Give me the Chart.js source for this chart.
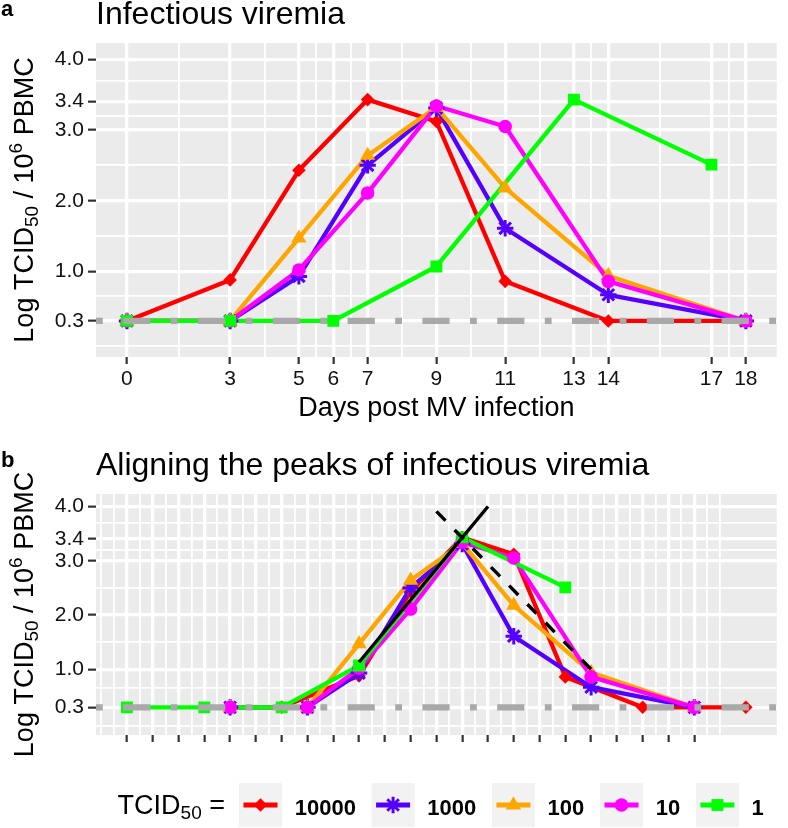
<!DOCTYPE html>
<html>
<head>
<meta charset="utf-8">
<script src="https://cdn.jsdelivr.net/npm/chart.js@4.4.1/dist/chart.umd.min.js"></script>
<style>
html,body{margin:0;padding:0;background:#ffffff;}
#wrap{position:relative;width:788px;height:828px;overflow:hidden;background:#fff;}
canvas{position:absolute;left:0;display:block;}
#ca{top:0;}
#cb{top:451px;}
</style>
</head>
<body>
<div id="wrap">
<canvas id="ca" width="788" height="451"></canvas>
<canvas id="cb" width="788" height="377"></canvas>
</div>
<script>
// ---------------- DATA ----------------
const seriesLabels = ['10000', '1000', '100', '10', '1'];
const seriesColors = ['#FF0000', '#5500FF', '#FFA500', '#FF00FF', '#00FF00'];
const seriesMarkers = ['rectRot', 'star', 'triangle', 'circle', 'rect'];

const daysMain = [0, 3, 5, 7, 9, 11, 14, 18];
const daysDose1 = [0, 3, 6, 9, 13, 17];

const log10000 = [0.3, 0.88, 2.43, 3.43, 3.12, 0.86, 0.3, 0.3];
const log1000  = [0.3, 0.3, 0.93, 2.50, 3.31, 1.61, 0.67, 0.3];
const log100   = [0.3, 0.3, 1.47, 2.64, 3.32, 2.18, 0.94, 0.3];
const log10    = [0.3, 0.3, 1.02, 2.11, 3.34, 3.05, 0.86, 0.3];
const log1     = [0.3, 0.3, 0.3, 1.07, 3.43, 2.51];

// days each curve is shifted in panel b so that the peaks line up
const peakAlignShift = [6, 4, 4, 4, 0];

const detectionLimit = 0.3;

// fitted slopes in panel b
const riseFitX = [9, 14];
const riseFitY = [1.13, 4.0];
const fallFitX = [12, 18];
const fallFitY = [3.91, 1.0];

// ticks
const xTicksA = [0, 3, 5, 6, 7, 9, 11, 13, 14, 17, 18];
const xMinorA = [1.5, 4, 5.5, 6.5, 8, 10, 12, 13.5, 15.5, 17.5];
const xTicksB = [0, 1, 2, 3, 4, 5, 6, 7, 8, 9, 10, 11, 12, 13, 14, 15, 16, 17, 18, 19, 20, 21, 22];
const xMinorB = [-1, -0.5, 0.5, 1.5, 2.5, 3.5, 4.5, 5.5, 6.5, 7.5, 8.5, 9.5, 10.5, 11.5, 12.5,
                 13.5, 14.5, 15.5, 16.5, 17.5, 18.5, 19.5, 20.5, 21.5, 22.5, 23];
const yTicks = [0.3, 1, 2, 3, 3.4, 4];
const yMinor = [-0.05, 0.65, 1.5, 2.5, 3.2, 3.7];

// ---------------- CHART ----------------
const FAMILY = '"Liberation Sans", Arial, Helvetica, sans-serif';
Chart.defaults.font.family = FAMILY;

const seriesX = [daysMain, daysMain, daysMain, daysMain, daysDose1];
const seriesY = [log10000, log1000, log100, log10, log1];
const markerRadius = {rectRot: 6.8, star: 8.2, triangle: 8.8, circle: 6.8, rect: 8.4};
const LINE_W = 4.3;
const Y_MIN = -0.21, Y_MAX = 4.23;

function pointsOf(i, shift) {
  return seriesX[i].map((d, j) => ({x: d + shift, y: seriesY[i][j]}));
}

function buildDatasets(panel, xMin, xMax) {
  const ds = [];
  seriesY.forEach((_, i) => {
    const shift = panel === 'b' ? peakAlignShift[i] : 0;
    const pts = pointsOf(i, shift);
    const col = seriesColors[i], m = seriesMarkers[i];
    ds.push({data: pts, borderColor: col, backgroundColor: col, borderWidth: LINE_W,
             borderJoinStyle: 'round', pointRadius: 0, fill: false, order: 20 - i});
    ds.push({data: pts, showLine: false, pointStyle: m, pointRadius: markerRadius[m],
             pointBackgroundColor: col, pointBorderColor: col,
             pointBorderWidth: m === 'star' ? 3 : 0, order: 10 - i});
  });
  if (panel === 'b') {
    ds.push({data: riseFitX.map((x, j) => ({x: x, y: riseFitY[j]})), borderColor: '#000',
             borderWidth: 3.4, pointRadius: 0, order: 2});
    ds.push({data: fallFitX.map((x, j) => ({x: x, y: fallFitY[j]})), borderColor: '#000',
             borderWidth: 3.4, borderDash: [13, 13], pointRadius: 0, order: 1});
  }
  ds.push({data: [{x: xMin, y: detectionLimit}, {x: xMax, y: detectionLimit}],
           borderColor: '#A9A9A9', borderWidth: 6.2, borderDash: [6.8, 20.4, 27.2, 20.4],
           pointRadius: 0, order: 0});
  return ds;
}

function axisCfg(axis, min, max, major, minor, showLabels, size) {
  const all = major.concat(minor).sort((a, b) => a - b);
  const isMajor = v => major.includes(v);
  return {
    type: 'linear', min: min, max: max, position: axis === 'x' ? 'bottom' : 'left',
    afterBuildTicks: s => { s.ticks = all.map(v => ({value: v})); },
    afterFit: s => { if (axis === 'x') s.height = size; else s.width = size; },
    border: {display: false},
    grid: {
      color: '#FFFFFF',
      lineWidth: c => (c.tick && isMajor(c.tick.value)) ? 3.3 : 1.8,
      drawTicks: true,
      tickLength: axis === 'x' ? 7 : 8,
      tickWidth: 2.2,
      tickColor: c => (c.tick && isMajor(c.tick.value)) ? '#333333' : 'rgba(0,0,0,0)'
    },
    ticks: {
      autoSkip: false, maxRotation: 0, minRotation: 0,
      padding: axis === 'x' ? 3 : 4, color: '#111111', font: {size: 21},
      callback: v => (showLabels && isMajor(v)) ? (axis === 'y' ? v.toFixed(1) : String(v)) : ''
    }
  };
}

const panelBg = {
  id: 'panelBg',
  beforeDraw(chart) {
    const a = chart.chartArea, ctx = chart.ctx;
    ctx.save();
    ctx.fillStyle = '#FFFFFF';
    ctx.fillRect(0, 0, chart.width, chart.height);
    ctx.fillStyle = '#EBEBEB';
    ctx.fillRect(a.left, a.top, a.right - a.left, a.bottom - a.top);
    ctx.restore();
  }
};

function fontStr(p) { return (p.bold ? 'bold ' : '') + p.size + 'px ' + FAMILY; }
function richWidth(ctx, parts) {
  let w = 0;
  for (const p of parts) { ctx.font = fontStr(p); w += ctx.measureText(p.t).width; }
  return w;
}
function drawRich(ctx, parts, x, y, align) {
  const w = richWidth(ctx, parts);
  let cx = align === 'center' ? x - w / 2 : (align === 'right' ? x - w : x);
  ctx.textAlign = 'left';
  ctx.textBaseline = 'alphabetic';
  for (const p of parts) {
    ctx.font = fontStr(p);
    ctx.fillText(p.t, cx, y + (p.dy || 0));
    cx += ctx.measureText(p.t).width;
  }
  return w;
}
const yTitleParts = [
  {t: 'Log TCID', size: 27}, {t: '50', size: 19, dy: 5}, {t: ' / 10', size: 27},
  {t: '6', size: 19, dy: -11}, {t: ' PBMC', size: 27}
];
function drawYTitle(ctx, cy) {
  ctx.save();
  ctx.translate(33, cy);
  ctx.rotate(-Math.PI / 2);
  ctx.fillStyle = '#000';
  drawRich(ctx, yTitleParts, 0, 0, 'center');
  ctx.restore();
}

const decorA = {
  id: 'decorA',
  afterDraw(chart) {
    const ctx = chart.ctx, a = chart.chartArea;
    ctx.save();
    ctx.fillStyle = '#000';
    drawRich(ctx, [{t: 'a', size: 22, bold: true}], 1, 15.5, 'left');
    drawRich(ctx, [{t: 'Infectious viremia', size: 32}], a.left, 23.5, 'left');
    drawRich(ctx, [{t: 'Days post MV infection', size: 27}], (a.left + a.right) / 2, 416, 'center');
    ctx.restore();
    drawYTitle(ctx, (a.top + a.bottom) / 2);
  }
};

function drawMarker(ctx, style, r, col, x, y) {
  ctx.save();
  ctx.fillStyle = col;
  ctx.strokeStyle = col;
  ctx.lineWidth = style === 'star' ? 3 : 0;
  if (Chart.helpers && Chart.helpers.drawPoint) {
    Chart.helpers.drawPoint(ctx, {pointStyle: style, radius: r, rotation: 0,
                                  borderWidth: style === 'star' ? 3 : 0}, x, y);
  } else {
    ctx.beginPath(); ctx.arc(x, y, r, 0, Math.PI * 2); ctx.fill();
  }
  ctx.restore();
}

const decorB = {
  id: 'decorB',
  afterDraw(chart) {
    const ctx = chart.ctx, a = chart.chartArea;
    ctx.save();
    ctx.fillStyle = '#000';
    drawRich(ctx, [{t: 'b', size: 22, bold: true}], 1, 15.5, 'left');
    drawRich(ctx, [{t: 'Aligning the peaks of infectious viremia', size: 32}], a.left, 23.5, 'left');
    ctx.restore();
    drawYTitle(ctx, (a.top + a.bottom) / 2);

    // legend
    const cy = 354, base = 364;
    ctx.save();
    ctx.fillStyle = '#000';
    drawRich(ctx, [{t: 'TCID', size: 27}, {t: '50', size: 19, dy: 5}, {t: ' =', size: 27}], 225, base - 1, 'right');
    let x = 239;
    const bw = 43, bh = 44;
    seriesLabels.forEach((lab, i) => {
      ctx.fillStyle = '#F2F2F2';
      ctx.fillRect(x, cy - bh / 2, bw, bh);
      ctx.strokeStyle = seriesColors[i];
      ctx.lineWidth = LINE_W + 0.5;
      ctx.lineCap = 'butt';
      ctx.beginPath(); ctx.moveTo(x + 4.5, cy); ctx.lineTo(x + bw - 4.5, cy); ctx.stroke();
      drawMarker(ctx, seriesMarkers[i], markerRadius[seriesMarkers[i]], seriesColors[i], x + bw / 2, cy);
      ctx.fillStyle = '#000';
      const w = drawRich(ctx, [{t: lab, size: 22, bold: true}], x + bw + 12.7, base, 'left');
      x = x + bw + 12.7 + w + 15.7;
    });
    ctx.restore();
  }
};

function makeChart(id, panel, cfg) {
  return new Chart(document.getElementById(id), {
    type: 'line',
    data: {datasets: buildDatasets(panel, cfg.xMin, cfg.xMax)},
    options: {
      responsive: false, animation: false, events: [], devicePixelRatio: 1,
      layout: {padding: {top: 43, right: 1, left: 0, bottom: 0}},
      plugins: {legend: {display: false}, tooltip: {enabled: false}, title: {display: false}},
      scales: {
        x: axisCfg('x', cfg.xMin, cfg.xMax, cfg.xMajor, cfg.xMinor, cfg.showXLabels, cfg.xAxisHeight),
        y: axisCfg('y', Y_MIN, Y_MAX, yTicks, yMinor, true, 96)
      }
    },
    plugins: [panelBg, cfg.decor]
  });
}

makeChart('ca', 'a', {xMin: -0.9, xMax: 18.9, xMajor: xTicksA, xMinor: xMinorA,
                      showXLabels: true, xAxisHeight: 94, decor: decorA});
makeChart('cb', 'b', {xMin: -1.2, xMax: 25.2, xMajor: xTicksB, xMinor: xMinorB,
                      showXLabels: false, xAxisHeight: 93, decor: decorB});
</script>
</body>
</html>
